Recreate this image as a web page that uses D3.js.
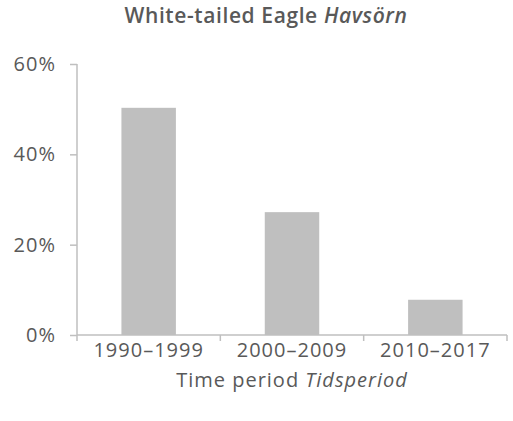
<!DOCTYPE html>
<html>
<head>
<meta charset="utf-8">
<script src="https://cdn.jsdelivr.net/npm/d3@7"></script>
<style>
  body { margin: 0; background: #fff; }
  text { font-family: "Open Sans", sans-serif; fill: #595959; }
</style>
</head>
<body>
<div id="chart"></div>
<script>
const periods = ['1990–1999', '2000–2009', '2010–2017']
const shares = [0.503, 0.272, 0.078]
const yTicks = [0, 0.2, 0.4, 0.6]

const W = 513, H = 421
const margin = { top: 64, left: 77, right: 6, bottom: 86 }
const width = W - margin.left - margin.right
const height = H - margin.top - margin.bottom

const svg = d3.select('#chart')
    .append('svg')
    .attr('width', W)
    .attr('height', H)

const g = svg.append('g')
    .attr('transform', 'translate(' + margin.left + ',' + margin.top + ')')

const x = d3.scaleBand()
    .domain(periods)
    .range([0, width])
    .paddingInner(0.62)
    .paddingOuter(0.31)

const y = d3.scaleLinear()
    .domain([0, 0.6])
    .range([height, 0])

// bars
g.selectAll('.bar')
    .data(periods)
    .enter().append('rect')
    .attr('class', 'bar')
    .attr('x', d => x(d))
    .attr('y', (d, i) => y(shares[i]))
    .attr('width', x.bandwidth())
    .attr('height', (d, i) => height - y(shares[i]))
    .attr('fill', '#bfbfbf')

// y axis
const yAxis = g.append('g')
    .call(d3.axisLeft(y).tickValues(yTicks).tickFormat(d3.format('.0%')).tickSize(7).tickPadding(14))
yAxis.selectAll('line, path').attr('stroke', '#bfbfbf').attr('stroke-width', 1.5)
yAxis.select('.domain').attr('d', 'M0,' + y(0.6) + 'V' + height)
yAxis.selectAll('text')
    .attr('font-size', 20)
    .attr('letter-spacing', 1)
    .style('font-family', '"Open Sans", sans-serif')
    .style('fill', '#595959')

// x axis: ticks at band boundaries
const xAxis = g.append('g')
    .attr('transform', 'translate(0,' + height + ')')
xAxis.append('path')
    .attr('d', 'M0,0H' + width)
    .attr('stroke', '#bfbfbf')
    .attr('stroke-width', 1.5)
const bounds = d3.range(periods.length + 1).map(i => i * width / periods.length)
xAxis.selectAll('.xtick')
    .data(bounds)
    .enter().append('line')
    .attr('x1', d => d).attr('x2', d => d)
    .attr('y1', 0).attr('y2', 6)
    .attr('stroke', '#bfbfbf')
    .attr('stroke-width', 1.5)
xAxis.selectAll('.xlabel')
    .data(periods)
    .enter().append('text')
    .attr('x', d => x(d) + x.bandwidth() / 2)
    .attr('y', 22)
    .attr('text-anchor', 'middle')
    .attr('font-size', 20)
    .attr('letter-spacing', 1)
    .text(d => d)

// axis title
const xt = svg.append('text')
    .attr('x', margin.left + width / 2)
    .attr('y', 387)
    .attr('text-anchor', 'middle')
    .attr('font-size', 20)
    .attr('letter-spacing', 1)
xt.append('tspan').text('Time period ')
xt.append('tspan').attr('font-style', 'italic').text('Tidsperiod')

// title
const title = svg.append('text')
    .attr('x', 266)
    .attr('y', 23)
    .attr('text-anchor', 'middle')
    .attr('font-size', 21)
    .attr('font-weight', 600)
    .attr('letter-spacing', 0.6)
title.append('tspan').text('White-tailed Eagle ')
title.append('tspan').attr('font-style', 'italic').text('Havsörn')
</script>
</body>
</html>
